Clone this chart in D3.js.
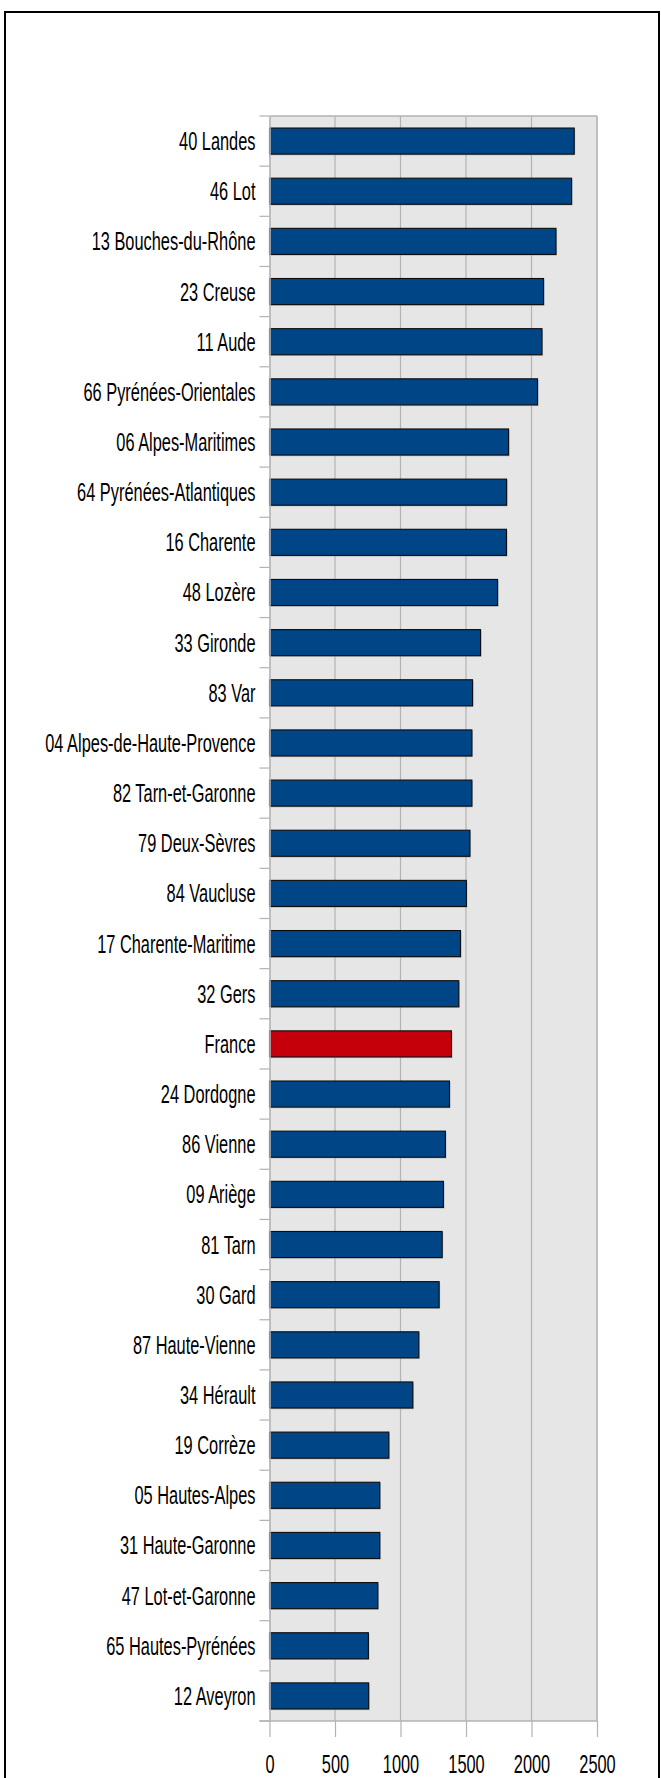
<!DOCTYPE html>
<html>
<head>
<meta charset="utf-8">
<script src="https://cdn.jsdelivr.net/npm/d3@7"></script>
<style>
  body { margin: 0; background: #fff; }
  text { font-family: "Liberation Sans", Arial, sans-serif; fill: #000; }
</style>
</head>
<body>
<div id="chart"></div>
<script>
// départements, sorted as in the picture
const names = [
  "40 Landes", "46 Lot", "13 Bouches-du-Rhône", "23 Creuse", "11 Aude",
  "66 Pyrénées-Orientales", "06 Alpes-Maritimes", "64 Pyrénées-Atlantiques",
  "16 Charente", "48 Lozère", "33 Gironde", "83 Var", "04 Alpes-de-Haute-Provence",
  "82 Tarn-et-Garonne", "79 Deux-Sèvres", "84 Vaucluse", "17 Charente-Maritime",
  "32 Gers", "France", "24 Dordogne", "86 Vienne", "09 Ariège", "81 Tarn",
  "30 Gard", "87 Haute-Vienne", "34 Hérault", "19 Corrèze", "05 Hautes-Alpes",
  "31 Haute-Garonne", "47 Lot-et-Garonne", "65 Hautes-Pyrénées", "12 Aveyron"
];
const values = [
  2326, 2306, 2187, 2092, 2080,
  2046, 1825, 1810,
  1809, 1741, 1611, 1550, 1545,
  1545, 1530, 1503, 1458,
  1445, 1389, 1374, 1343, 1328, 1318,
  1295, 1140, 1094, 911, 842,
  842, 827, 755, 757
];
const xTicks = [0, 500, 1000, 1500, 2000, 2500];

const data = names.map((n, i) => ({name: n, value: values[i]}));

const W = 661, H = 1778;
const plot = {left: 269.5, right: 597, top: 116, bottom: 1721};
const squeeze = 0.63; // labels are very condensed in the original

const svg = d3.select("#chart").append("svg")
    .attr("width", W).attr("height", H);

// outer frame
svg.append("rect")
    .attr("x", 5).attr("y", 12).attr("width", 654).attr("height", 1790)
    .attr("fill", "none").attr("stroke", "#000").attr("stroke-width", 2);

const x = d3.scaleLinear().domain([0, 2500]).range([plot.left, plot.right]);
const y = d3.scaleBand().domain(names).range([plot.top, plot.bottom])
    .paddingInner(0.48).paddingOuter(0.24);

// plot background
svg.append("rect")
    .attr("x", plot.left).attr("y", plot.top)
    .attr("width", plot.right - plot.left).attr("height", plot.bottom - plot.top)
    .attr("fill", "#e6e6e6");

// vertical grid
svg.append("g").selectAll("line").data(xTicks.slice(1)).enter().append("line")
    .attr("x1", d => x(d)).attr("x2", d => x(d))
    .attr("y1", plot.top).attr("y2", plot.bottom)
    .attr("stroke", "#b3b3b3").attr("stroke-width", d => d === 2500 ? 1.6 : 1.2);

// top border
svg.append("line")
    .attr("x1", plot.left).attr("x2", plot.right)
    .attr("y1", plot.top).attr("y2", plot.top)
    .attr("stroke", "#b3b3b3").attr("stroke-width", 1.6);

// bars (with a faint shadow)
svg.append("g").selectAll("rect").data(data).enter().append("rect")
    .attr("x", x(0) + 1).attr("y", d => y(d.name) + 1.2)
    .attr("width", d => x(d.value) - x(0)).attr("height", y.bandwidth())
    .attr("fill", "#9a9a9a").attr("opacity", 0.6);

svg.append("g").selectAll("rect").data(data).enter().append("rect")
    .attr("x", x(0)).attr("y", d => y(d.name))
    .attr("width", d => x(d.value) - x(0)).attr("height", y.bandwidth())
    .attr("fill", d => d.name === "France" ? "#c5000b" : "#004586")
    .attr("stroke", "#0d0d0d").attr("stroke-width", 1.1);

// y axis: labels centred on bars, ticks on category boundaries
const yAxis = svg.append("g")
    .attr("transform", `translate(${plot.left},0)`)
    .call(d3.axisLeft(y).tickSize(0).tickPadding(0));
yAxis.select(".domain").attr("stroke", "#b3b3b3").attr("stroke-width", 1.6);
yAxis.selectAll(".tick text")
    .attr("x", 0).attr("dy", null).attr("y", 9)
    .attr("transform", `translate(-14,0) scale(${squeeze},1)`)
    .style("font-size", "26px").style("font-family", null)
    .attr("fill", "#000");

const bounds = d3.range(names.length + 1).map(i => plot.top + i * y.step());
svg.append("g").selectAll("line").data(bounds).enter().append("line")
    .attr("x1", plot.left - 10).attr("x2", plot.left)
    .attr("y1", d => d).attr("y2", d => d)
    .attr("stroke", "#b3b3b3").attr("stroke-width", 1.2);

// x axis
const xAxis = svg.append("g")
    .attr("transform", `translate(0,${plot.bottom})`)
    .call(d3.axisBottom(x).tickValues(xTicks).tickFormat(d3.format("d"))
        .tickSize(16).tickSizeOuter(0).tickPadding(0));
xAxis.select(".domain").remove();
xAxis.append("line")
    .attr("x1", plot.left - 10).attr("x2", plot.right)
    .attr("stroke", "#b3b3b3").attr("stroke-width", 1.6);
xAxis.selectAll(".tick line").attr("stroke", "#b3b3b3").attr("stroke-width", 1.2);
xAxis.selectAll(".tick text")
    .attr("y", 52).attr("dy", null)
    .attr("transform", `scale(${squeeze},1)`)
    .style("font-size", "26px").style("font-family", null)
    .attr("fill", "#000");
</script>
</body>
</html>
